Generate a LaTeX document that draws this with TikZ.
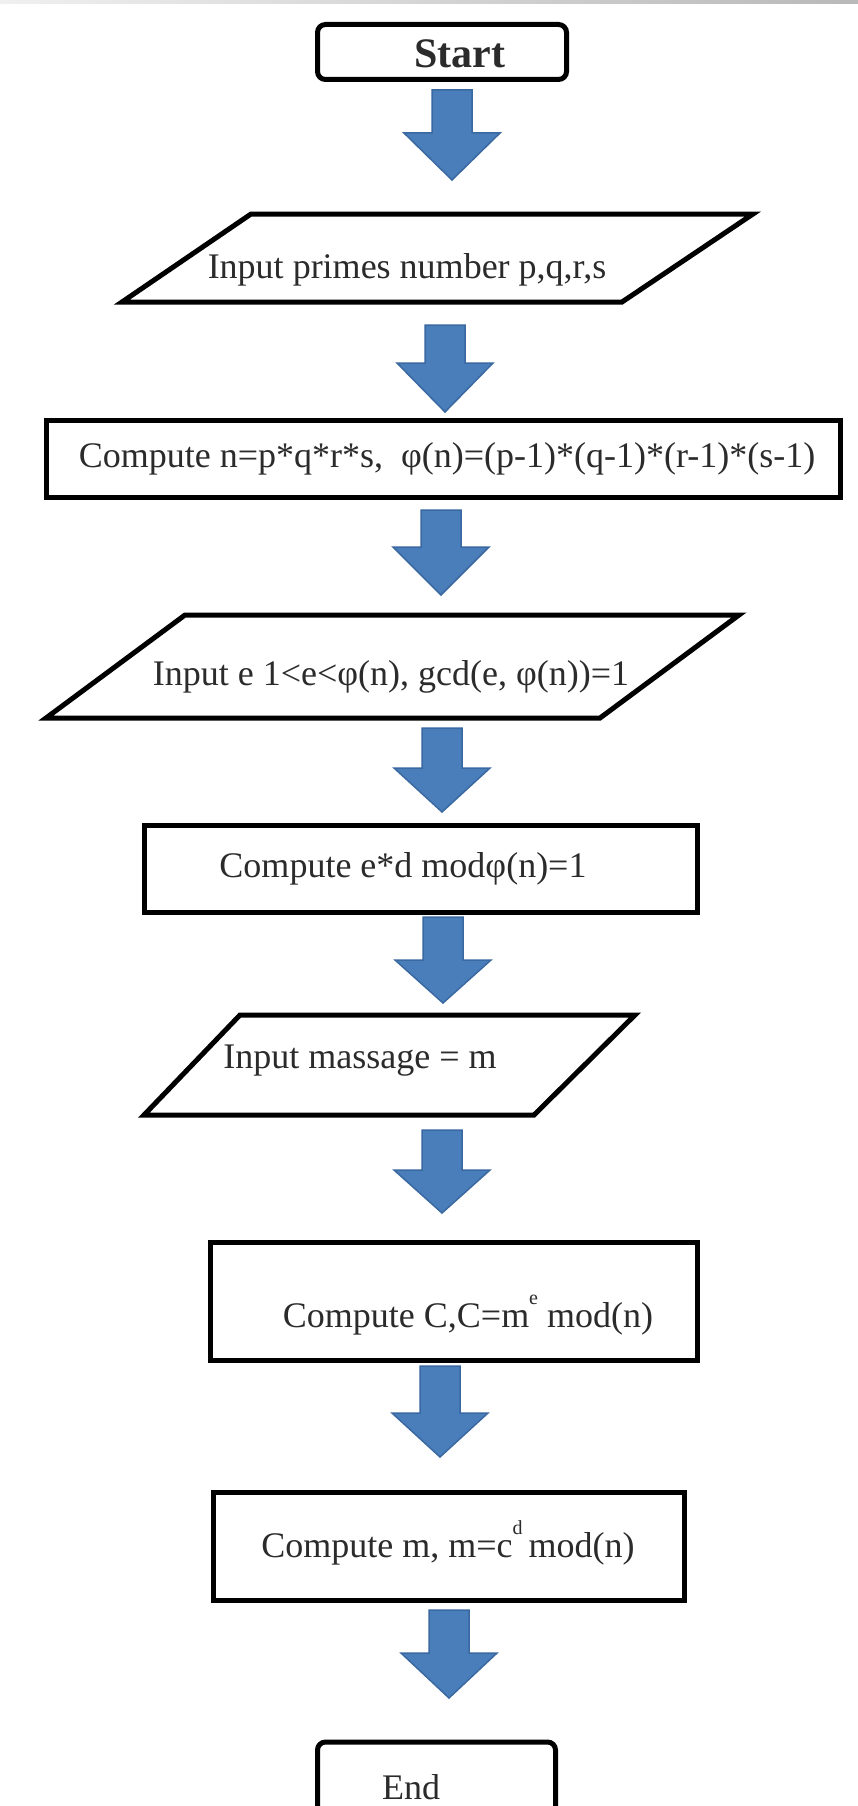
\documentclass[tikz,border=0pt]{standalone}
\usepackage{fontspec}
\setmainfont{Liberation Serif}
\definecolor{arrowblue}{HTML}{4A7EBB}
\definecolor{arrowedge}{HTML}{3A68A0}
\definecolor{txt}{HTML}{2B2B2B}
\newcommand\blockarrow[4]{\draw[barrow] ({#1-20},#2) -- ({#1+20},#2) -- ({#1+20},#3) -- ({#1+48},#3) -- (#1,#4) -- ({#1-48},#3) -- ({#1-20},#3) -- cycle;}
\newcommand\supscr[1]{\raisebox{0.62em}{\fontsize{20}{20}\selectfont #1}}
\tikzset{
  box/.style={draw=black, line width=5pt, fill=white, inner sep=0pt},
  term/.style={box, rounded corners=8pt},
  lbl/.style={font=\fontsize{36}{40}\selectfont, text=txt, anchor=base, inner sep=0pt},
  barrow/.style={fill=arrowblue, draw=arrowedge, line width=1.5pt, line join=miter},
  para/.style={draw=black, line width=5pt, line join=miter, fill=white}
}
\begin{document}
\begin{tikzpicture}[x=1pt,y=-1pt]
\useasboundingbox (0,0) rectangle (858,1806);
\fill[white] (0,0) rectangle (858,1806);
\fill[left color=gray!12, right color=gray!55] (0,0) rectangle (858,4);

% block arrows (connectors)
\blockarrow{452}{90}{133}{180}
\blockarrow{445}{325}{363}{412}
\blockarrow{441}{510}{547}{595}
\blockarrow{442}{728}{768}{812}
\blockarrow{443}{917}{960}{1003}
\blockarrow{442}{1130}{1170}{1213}
\blockarrow{440}{1366}{1413}{1457}
\blockarrow{449}{1610}{1653}{1698}

% shapes
\node[term, minimum width=249pt, minimum height=55pt] (start) at (442,52) {};
\draw[para] (251,214) coordinate (p1a) -- (753,214) coordinate (p1b) -- (622,302) coordinate (p1c) -- (122,302) coordinate (p1d) -- cycle;
\node[box, minimum width=794pt, minimum height=77pt] (comp1) at (443.5,459) {};
\draw[para] (185,615) coordinate (p2a) -- (739,615) coordinate (p2b) -- (600,718) coordinate (p2c) -- (46,718) coordinate (p2d) -- cycle;
\node[box, minimum width=553pt, minimum height=87pt] (comp2) at (421,869) {};
\draw[para] (240,1015) coordinate (p3a) -- (635,1015) coordinate (p3b) -- (534,1115) coordinate (p3c) -- (144,1115) coordinate (p3d) -- cycle;
\node[box, minimum width=487pt, minimum height=118pt] (comp3) at (454,1301.5) {};
\node[box, minimum width=471pt, minimum height=108pt] (comp4) at (449,1546.5) {};
\node[term, minimum width=238pt, minimum height=100pt] (end) at (436.5,1792) {};

% texts
\node[lbl, font=\fontsize{42}{46}\selectfont\bfseries] (tstart) at (460,68) {Start};
\node[lbl] (tp1) at (407,278) {Input primes number p,q,r,s};
\node[lbl] (tc1) at (447,467) {Compute n=p*q*r*s,\ \ φ(n)=(p-1)*(q-1)*(r-1)*(s-1)};
\node[lbl] (tp2) at (391,685) {Input e 1<e<φ(n), gcd(e, φ(n))=1};
\node[lbl] (tc2) at (403,877) {Compute e*d modφ(n)=1};
\node[lbl] (tp3) at (360,1068) {Input massage = m};
\node[lbl] (tc3) at (468,1327) {Compute C,C=m\supscr{e} mod(n)};
\node[lbl] (tc4) at (448,1557) {Compute m, m=c\supscr{d}\,mod(n)};
\node[lbl] (tend) at (411,1799) {End};
\end{tikzpicture}
\end{document}
